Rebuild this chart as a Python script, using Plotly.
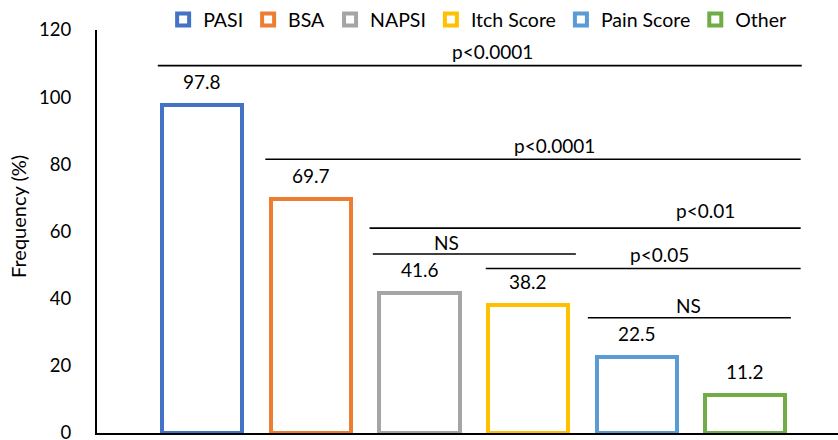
import plotly.graph_objects as go

# Outcome measures and their reported frequency (%)
categories = ["PASI", "BSA", "NAPSI", "Itch Score", "Pain Score", "Other"]
frequency = [97.8, 69.7, 41.6, 38.2, 22.5, 11.2]
colors = ["#4472C4", "#ED7D31", "#A5A5A5", "#FFC000", "#5B9BD5", "#70AD47"]
y_ticks = [0, 20, 40, 60, 80, 100, 120]

# Significance brackets: (start, end, height, label, label_x, label_offset_px)
brackets = [
    (-0.41, 5.52, 109.4, "p<0.0001", 2.67, 14),
    (0.58, 5.51, 81.5, "p<0.0001", 3.24, 14),
    (1.54, 5.51, 61.0, "p<0.01", 4.63, 18),
    (1.57, 3.44, 53.3, "NS", 2.25, 12),
    (2.61, 5.51, 49.0, "p<0.05", 4.21, 14),
    (3.55, 5.42, 34.3, "NS", 4.48, 12),
]

FONT = "Lato, Carlito, Calibri, sans-serif"

fig = go.Figure()
for i, (cat, val, col) in enumerate(zip(categories, frequency, colors)):
    fig.add_trace(go.Bar(
        x=[i], y=[val], name=cat, width=0.737,
        marker=dict(color="white", line=dict(color=col, width=4)),
        cliponaxis=False,
    ))
    fig.add_annotation(
        x=i, y=val, text=f"{val}", showarrow=False,
        yanchor="bottom", yshift=10, font=dict(size=19, color="#000"),
    )

for x0, x1, yv, label, lx, dy in brackets:
    fig.add_shape(type="line", xref="x", yref="y", x0=x0, x1=x1, y0=yv, y1=yv,
                  line=dict(color="black", width=1.6))
    fig.add_annotation(x=lx, y=yv, text=label, showarrow=False,
                       yanchor="middle", yshift=dy, font=dict(size=19, color="#000"))

fig.add_annotation(
    xref="paper", yref="paper", x=-0.1066, y=0.536, text="Frequency (%)",
    textangle=-90, showarrow=False, xanchor="center", yanchor="middle",
    font=dict(size=20, color="#000"),
)

fig.update_layout(
    width=838, height=440,
    margin=dict(l=97, r=0, t=30, b=7, autoexpand=False),
    paper_bgcolor="white", plot_bgcolor="white",
    font=dict(family=FONT, size=18, color="#000"),
    showlegend=True,
    legend=dict(orientation="h", x=0.513, xanchor="center", y=1.025, yanchor="middle",
                font=dict(size=19.5), bgcolor="rgba(0,0,0,0)"),
    xaxis=dict(range=[-0.97, 5.854], showticklabels=False, showgrid=False,
               zeroline=False, showline=True, linecolor="black", linewidth=2,
               ticks="", automargin=False),
    yaxis=dict(range=[0, 120], tickvals=y_ticks, showgrid=False, zeroline=False,
               showline=True, linecolor="black", linewidth=2, ticks="",
               ticklabelstandoff=20, ticklabeloverflow="allow", automargin=False,
               tickfont=dict(size=18.5)),
    bargap=0,
)

fig.write_html("out.html")
